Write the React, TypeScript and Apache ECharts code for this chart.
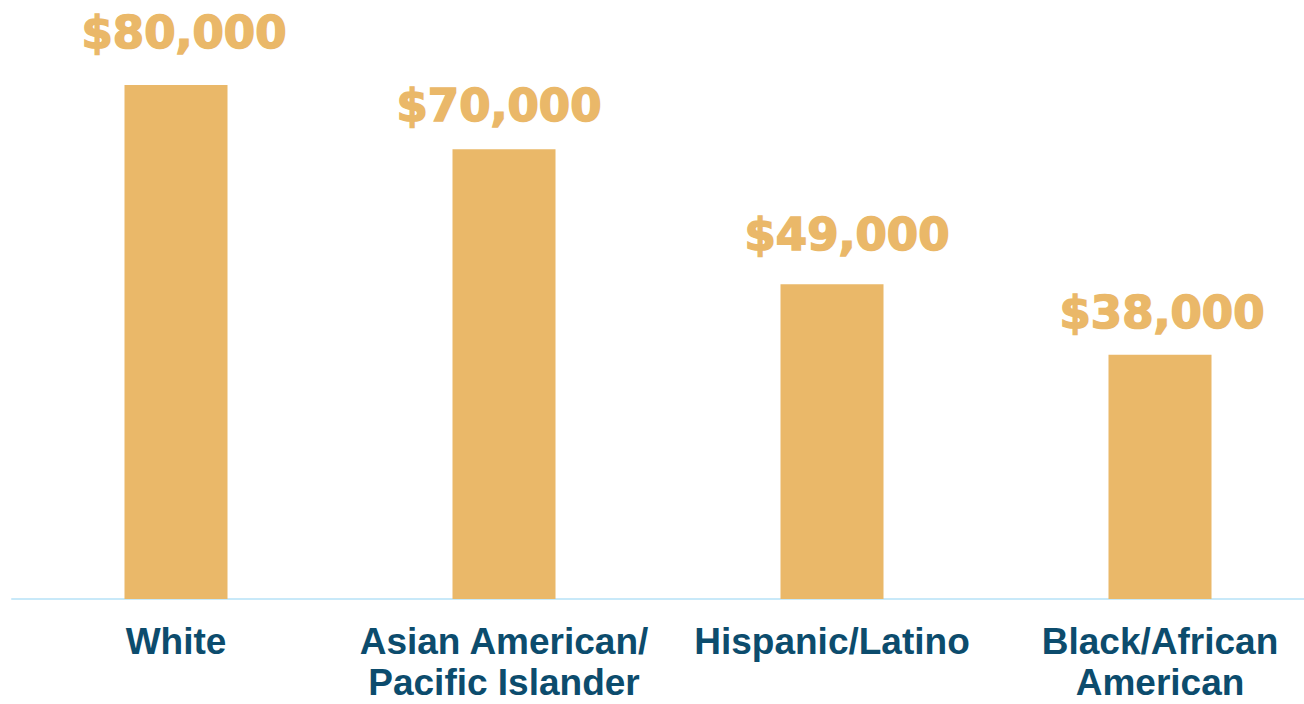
import React, { useEffect, useRef } from "react";
import * as echarts from "echarts";

const categories = [
  "White",
  "Asian American/\nPacific Islander",
  "Hispanic/Latino",
  "Black/African\nAmerican",
];
const incomes = [80000, 70000, 49000, 38000];

// label nudges (styling only) to match the reference placement
const labelOffsets: [number, number][] = [
  [8, -10],
  [-5, -1],
  [15, -7],
  [2, 0],
];

const GOLD = "#EAB869";
const NAVY = "#0C4C6D";

export default function App() {
  const ref = useRef<HTMLDivElement>(null);
  useEffect(() => {
    if (!ref.current) return;
    const chart = echarts.init(ref.current, undefined, { renderer: "svg" });
    chart.setOption({
      animation: false,
      grid: {
        left: 12,
        width: 1312,
        top: 85,
        bottom: 105,
        containLabel: false,
        outerBoundsMode: "none",
      },
      xAxis: {
        type: "category",
        data: categories,
        axisLine: { show: true, lineStyle: { color: "#C8E9F9", width: 2 } },
        axisTick: { show: false },
        axisLabel: {
          interval: 0,
          margin: 22,
          color: NAVY,
          fontFamily: "Liberation Sans, Arial, sans-serif",
          fontWeight: "bold",
          fontSize: 37,
          lineHeight: 41,
          verticalAlign: "top",
        },
      },
      yAxis: {
        type: "value",
        min: 0,
        max: 80000,
        show: false,
        splitLine: { show: false },
      },
      series: [
        {
          type: "bar",
          barWidth: 103,
          itemStyle: { color: GOLD },
          data: incomes.map((v, i) => ({
            value: v,
            label: { offset: labelOffsets[i] },
          })),
          label: {
            show: true,
            position: "top",
            distance: 20,
            color: GOLD,
            textBorderColor: GOLD,
            textBorderWidth: 1.6,
            fontFamily: "DejaVu Sans, sans-serif",
            fontWeight: "bold",
            fontSize: 45,
            formatter: (p: any) => "$" + Number(p.value).toLocaleString("en-US"),
          },
        },
      ],
    });
    return () => chart.dispose();
  }, []);
  return (
    <div
      ref={ref}
      style={{ position: "fixed", left: 0, top: 0, width: 1304, height: 704, background: "#fff" }}
    />
  );
}
